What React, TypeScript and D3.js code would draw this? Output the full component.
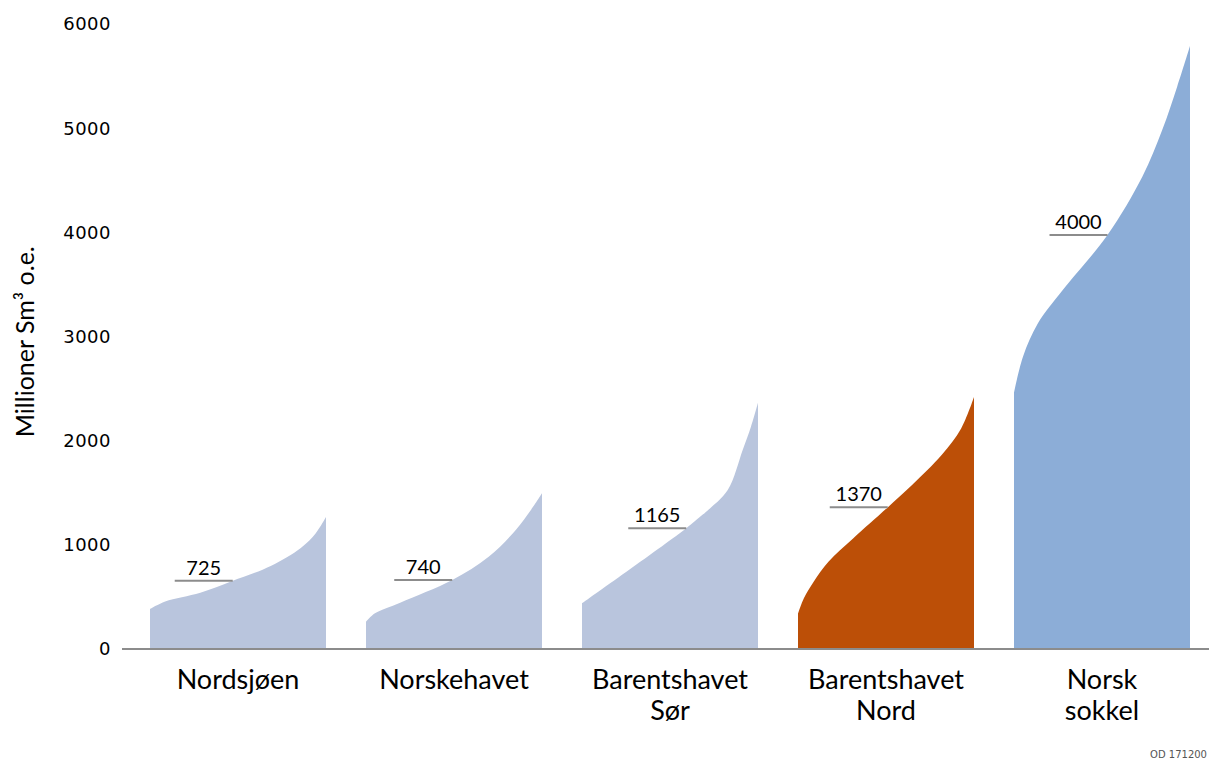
import React from "react";
import * as d3 from "d3";

const categories: string[][] = [
  ["Nordsjøen"],
  ["Norskehavet"],
  ["Barentshavet", "Sør"],
  ["Barentshavet", "Nord"],
  ["Norsk", "sokkel"],
];

// upper edge of each distribution: position along the band (0..1) and value
const nordsjoenPos = [0, 0.086, 0.286, 0.467, 0.686, 0.857, 0.943, 1];
const nordsjoenVal = [384, 456, 540, 653, 797, 970, 1114, 1267];
const norskehavetPos = [0, 0.051, 0.194, 0.49, 0.697, 0.851, 0.937, 1];
const norskehavetVal = [262, 343, 445, 662, 886, 1142, 1334, 1495];
const barentsSorPos = [0, 0.591, 0.676, 0.714, 0.828, 0.913, 0.96, 1];
const barentsSorVal = [439, 1158, 1277, 1330, 1526, 1910, 2134, 2365];
const barentsNordPos = [0, 0.034, 0.089, 0.173, 0.313, 0.508, 0.648, 0.816, 0.927, 1];
const barentsNordVal = [340, 490, 646, 838, 1062, 1357, 1574, 1862, 2118, 2420];
const sokkelPos = [0, 0.051, 0.136, 0.277, 0.531, 0.729, 0.842, 0.927, 1];
const sokkelVal = [2460, 2806, 3127, 3446, 3974, 4534, 4982, 5398, 5790];

const positions = [nordsjoenPos, norskehavetPos, barentsSorPos, barentsNordPos, sokkelPos];
const values = [nordsjoenVal, norskehavetVal, barentsSorVal, barentsNordVal, sokkelVal];

const labelTexts = ["725", "740", "1165", "1370", "4000"];
const markerLevels = [655, 662, 1160, 1360, 3975];
const fills = ["#B9C5DD", "#B9C5DD", "#B9C5DD", "#BC4F07", "#8CADD7"];

const yTicks = [0, 1000, 2000, 3000, 4000, 5000, 6000];

const W = 1209;
const H = 760;

export default function App() {
  const y = d3.scaleLinear().domain([0, 6000]).range([641, 16]);
  const x = d3
    .scaleBand<number>()
    .domain(categories.map((_, i) => i))
    .range([122, 1202])
    .paddingInner(0.1852)
    .paddingOuter(0.0926);
  const bw = x.bandwidth();

  const gray = "#8C8C8C";

  return (
    <svg
      width={W}
      height={H}
      style={{ position: "absolute", left: 0, top: 0, background: "#fff" }}
      viewBox={`-8 -8 ${W} ${H}`}
    >
      {categories.map((_, i) => {
        const x0 = x(i)!;
        const pts = positions[i].map((p, k) => [p, values[i][k]] as [number, number]);
        const area = d3
          .area<[number, number]>()
          .x((d) => x0 + d[0] * bw)
          .y0(y(0))
          .y1((d) => y(d[1]))
          .curve(d3.curveCatmullRom.alpha(0.5));
        // where the curve crosses the marker level
        const lvl = markerLevels[i];
        let xe = x0;
        for (let k = 1; k < pts.length; k++) {
          const [pa, va] = pts[k - 1];
          const [pb, vb] = pts[k];
          if (lvl >= va && lvl <= vb) {
            xe = x0 + (pa + ((lvl - va) / (vb - va)) * (pb - pa)) * bw;
            break;
          }
        }
        const xs = xe - 58;
        return (
          <g key={i}>
            <path d={area(pts) || ""} fill={fills[i]} />
            <line x1={xs} x2={xe} y1={y(lvl)} y2={y(lvl)} stroke={gray} strokeWidth={2} />
            <text
              x={(xs + xe) / 2}
              y={y(lvl) - 6}
              textAnchor="middle"
              fontFamily="Lato, 'Open Sans', sans-serif"
              fontSize={20}
              fill="#000"
            >
              {labelTexts[i]}
            </text>
            <text
              x={x0 + bw / 2}
              y={y(0) + 40}
              textAnchor="middle"
              fontFamily="Lato, 'Open Sans', sans-serif"
              fontSize={27}
              fill="#000"
            >
              {categories[i].map((t, j) => (
                <tspan key={j} x={x0 + bw / 2} dy={j === 0 ? 0 : 31}>
                  {t}
                </tspan>
              ))}
            </text>
          </g>
        );
      })}
      <line x1={114} x2={W} y1={y(0)} y2={y(0)} stroke={gray} strokeWidth={2} />
      {yTicks.map((t) => (
        <text
          key={t}
          x={103}
          y={y(t)}
          dy="0.36em"
          textAnchor="end"
          fontFamily="'DejaVu Sans', Verdana, sans-serif"
          fontSize={18}
          letterSpacing={0.5}
          fill="#000"
        >
          {t}
        </text>
      ))}
      <text
        transform={`translate(${17},${y(2950)}) rotate(-90)`}
        textAnchor="middle"
        dy="0.35em"
        fontFamily="Lato, 'Open Sans', sans-serif"
        fontSize={25}
        fill="#000"
      >
        Millioner Sm³ o.e.
      </text>
      <text x={1199} y={750} textAnchor="end" fontFamily="'DejaVu Sans', sans-serif" fontSize={10} fill="#555">
        OD 171200
      </text>
    </svg>
  );
}
